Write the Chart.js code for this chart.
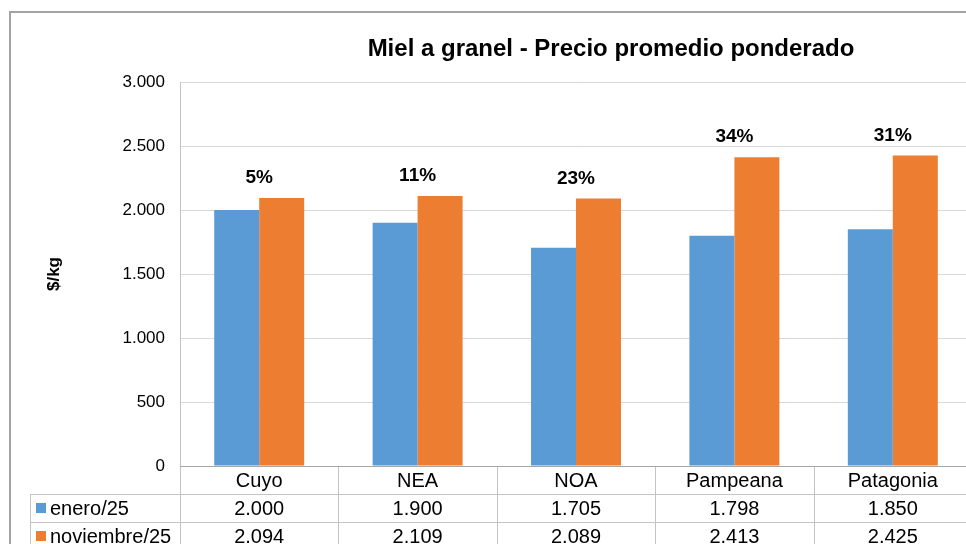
<!DOCTYPE html>
<html>
<head>
<meta charset="utf-8">
<script src="https://cdn.jsdelivr.net/npm/chart.js@4/dist/chart.umd.min.js"></script>
<style>
    html, body { margin: 0; padding: 0; overflow: hidden; background: #fff; }
    #wrap { position: relative; width: 980px; height: 544px; }
    #frame {
        position: absolute; left: 9px; top: 11px; width: 2000px; height: 2000px;
        border-left: 2px solid #a3a3a3; border-top: 2px solid #a3a3a3;
        pointer-events: none;
    }
</style>
</head>
<body>
<div id="wrap">
    <canvas id="chart" width="980" height="544"></canvas>
    <div id="frame"></div>
</div>
<script>
    // Data
    const regions = ['Cuyo', 'NEA', 'NOA', 'Pampeana', 'Patagonia'];
    const enero25 = [2000, 1900, 1705, 1798, 1850];
    const noviembre25 = [2094, 2109, 2089, 2413, 2425];
    const variacion = ['5%', '11%', '23%', '34%', '31%'];
    const seriesNames = ['enero/25', 'noviembre/25'];
    const yTicks = [0, 500, 1000, 1500, 2000, 2500, 3000];

    const BLUE = '#5b9bd5';
    const ORANGE = '#ed7d31';
    const LINE = '#c4c4c4';
    const FONT = '"Liberation Sans", Arial, sans-serif';

    // Miles con punto: 3000 -> 3.000
    function fmt(v) {
        return String(v).replace(/\B(?=(\d{3})+(?!\d))/g, '.');
    }

    // Title drawn by hand so it can sit off-centre like the original
    const titlePlugin = {
        id: 'manualTitle',
        afterDraw(chart) {
            const ctx = chart.ctx;
            ctx.save();
            ctx.font = 'bold 24px ' + FONT;
            ctx.fillStyle = '#000';
            ctx.textAlign = 'center';
            ctx.textBaseline = 'middle';
            ctx.fillText('Miel a granel - Precio promedio ponderado', 611, 49);
            ctx.restore();
        }
    };

    // Percent change labels above each pair of bars
    const pctPlugin = {
        id: 'pctLabels',
        afterDatasetsDraw(chart) {
            const ctx = chart.ctx;
            const x = chart.scales.x;
            const y = chart.scales.y;
            ctx.save();
            ctx.font = 'bold 19px ' + FONT;
            ctx.fillStyle = '#000';
            ctx.textAlign = 'center';
            ctx.textBaseline = 'middle';
            variacion.forEach((txt, i) => {
                const top = Math.max(enero25[i], noviembre25[i]);
                ctx.fillText(txt, x.getPixelForValue(i), y.getPixelForValue(top) - 20);
            });
            ctx.restore();
        }
    };

    // Excel-style data table under the plot
    const tablePlugin = {
        id: 'dataTable',
        afterDraw(chart) {
            const ctx = chart.ctx;
            const area = chart.chartArea;
            const x = chart.scales.x;
            const colW = (area.right - area.left) / regions.length;
            const rowH = 28;
            const y0 = area.bottom;
            const legendLeft = 30;
            const bottom = chart.height;

            ctx.save();
            ctx.strokeStyle = LINE;
            ctx.lineWidth = 1;
            ctx.beginPath();
            // column separators
            for (let i = 0; i <= regions.length; i++) {
                const cx = Math.round(area.left + i * colW) + 0.5;
                ctx.moveTo(cx, y0);
                ctx.lineTo(cx, bottom);
            }
            // row separators
            for (let r = 1; r <= 2; r++) {
                const ry = Math.round(y0 + r * rowH) + 0.5;
                ctx.moveTo(legendLeft, ry);
                ctx.lineTo(area.right, ry);
            }
            ctx.moveTo(legendLeft + 0.5, y0 + rowH);
            ctx.lineTo(legendLeft + 0.5, bottom);
            ctx.stroke();

            // axis line at zero
            ctx.strokeStyle = '#a6a6a6';
            ctx.beginPath();
            ctx.moveTo(area.left, Math.round(y0) + 0.5);
            ctx.lineTo(area.right, Math.round(y0) + 0.5);
            ctx.stroke();

            ctx.font = '20px ' + FONT;
            ctx.fillStyle = '#000';
            ctx.textBaseline = 'middle';
            ctx.textAlign = 'center';
            regions.forEach((name, i) => {
                const cx = x.getPixelForValue(i);
                ctx.fillText(name, cx, y0 + rowH / 2 + 1);
                ctx.fillText(fmt(enero25[i]), cx, y0 + rowH * 1.5 + 1);
                ctx.fillText(fmt(noviembre25[i]), cx, y0 + rowH * 2.5 + 1);
            });

            // legend keys
            const colors = [BLUE, ORANGE];
            ctx.textAlign = 'left';
            seriesNames.forEach((name, r) => {
                const cy = y0 + rowH * (1.5 + r);
                ctx.fillStyle = colors[r];
                ctx.fillRect(36, cy - 5, 10, 10);
                ctx.fillStyle = '#000';
                ctx.fillText(name, 50, cy + 1);
            });
            ctx.restore();
        }
    };

    const ctx = document.getElementById('chart').getContext('2d');
    new Chart(ctx, {
        type: 'bar',
        data: {
            labels: regions,
            datasets: [
                { label: seriesNames[0], data: enero25, backgroundColor: BLUE },
                { label: seriesNames[1], data: noviembre25, backgroundColor: ORANGE }
            ]
        },
        options: {
            responsive: false,
            animation: false,
            layout: { padding: { top: 82, bottom: 78, left: 0, right: 8 } },
            datasets: {
                bar: { categoryPercentage: 0.568, barPercentage: 1.0 }
            },
            plugins: {
                legend: { display: false },
                title: { display: false },
                tooltip: { enabled: false }
            },
            scales: {
                x: { display: false, offset: true },
                y: {
                    min: 0,
                    max: 3000,
                    afterBuildTicks: scale => {
                        scale.ticks = yTicks.map(v => ({ value: v }));
                    },
                    afterFit: scale => { scale.width = 180; },
                    ticks: {
                        padding: 15,
                        color: '#000',
                        font: { family: FONT, size: 17 },
                        callback: v => fmt(v)
                    },
                    grid: { color: '#d9d9d9', drawTicks: false },
                    border: { color: LINE },
                    title: {
                        display: true,
                        text: '$/kg',
                        color: '#000',
                        font: { family: FONT, size: 17, weight: 'bold' },
                        padding: { top: 44 }
                    }
                }
            }
        },
        plugins: [titlePlugin, pctPlugin, tablePlugin]
    });
</script>
</body>
</html>
